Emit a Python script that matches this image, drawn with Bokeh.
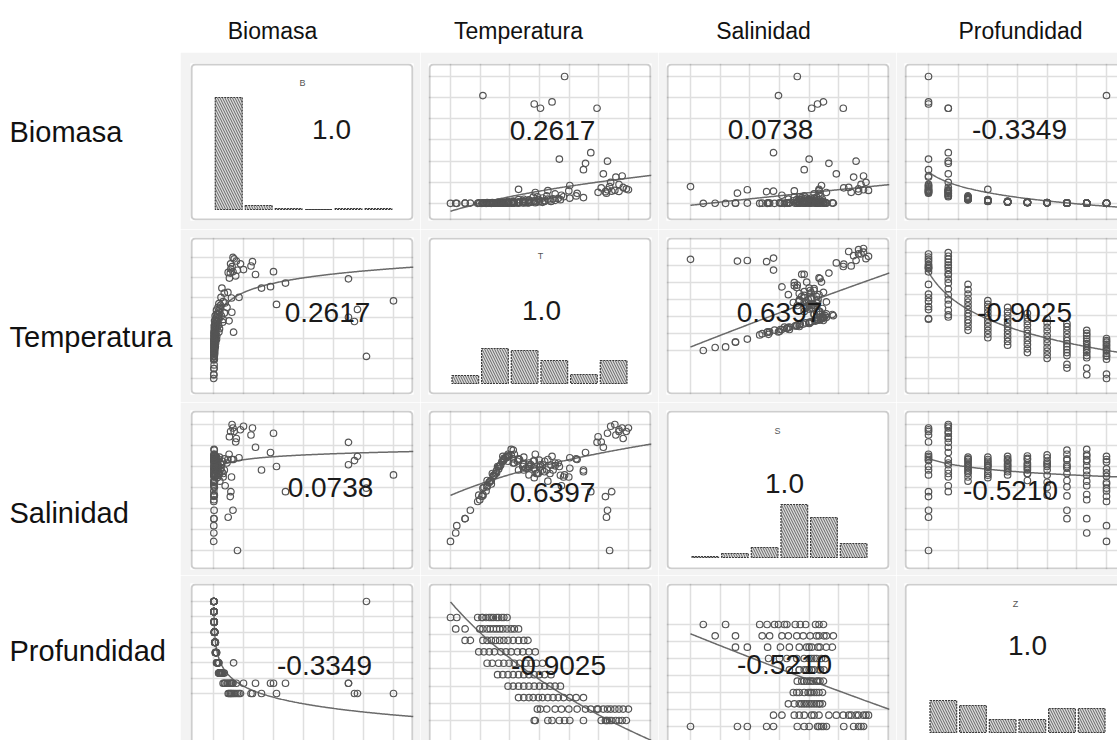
import numpy as np
from bokeh.plotting import figure
from bokeh.models import Range1d, Label, BoxAnnotation, Grid, FixedTicker
from bokeh.layouts import row, column
from bokeh.embed import file_html
from bokeh.resources import INLINE

# ---------------------------------------------------------------- data
VAR_NAMES = ["Biomasa", "Temperatura", "Salinidad", "Profundidad"]
VAR_CODES = ["B", "T", "S", "Z"]

# depth of each sample (m)
Z = [5, 5, 5, 5, 5, 5, 5, 5, 5, 5, 5, 5, 5, 5, 5, 5, 5, 5,
     10, 10, 10, 10, 10, 10, 10, 10, 10, 10, 10, 10, 10, 10, 10, 10, 10, 10,
     15, 15, 15, 15, 15, 15, 15, 15, 15, 15, 15, 15, 15,
     20, 20, 20, 20, 20, 20, 20, 20, 20, 20, 20,
     25, 25, 25, 25, 25, 25, 25, 25, 25, 25, 25,
     30, 30, 30, 30, 30, 30, 30, 30, 30, 30, 30,
     35, 35, 35, 35, 35, 35, 35, 35, 35, 35, 35,
     40, 40, 40, 40, 40, 40, 40, 40, 40, 40, 40, 40, 40,
     45, 45, 45, 45, 45, 45, 45, 45, 45, 45, 45, 45, 45, 45,
     50, 50, 50, 50, 50, 50, 50, 50, 50, 50, 50, 50, 50, 50]

# temperature (deg C)
T = [20.1, 20.0, 21.3, 21.7, 22.4, 22.9, 23.4, 24.7, 26.4, 26.8, 27.2, 26.9, 27.0, 27.4, 27.8, 28.1, 28.4, 28.8,
     20.3, 20.6, 21.2, 22.0, 22.6, 23.3, 24.1, 24.9, 25.4, 26.0, 26.1, 26.6, 27.0, 27.3, 27.7, 28.1, 28.5, 29.0,
     18.5, 19.0, 19.5, 19.9, 20.4, 20.8, 21.3, 21.8, 22.3, 22.8, 23.4, 24.0, 24.7,
     17.5, 18.0, 18.5, 19.0, 19.5, 20.0, 20.5, 21.0, 21.5, 22.0, 22.5,
     16.5, 17.0, 17.5, 18.0, 18.5, 19.0, 19.5, 20.0, 20.5, 21.0, 21.6,
     15.5, 16.0, 16.6, 17.1, 17.6, 18.1, 18.6, 19.2, 19.7, 20.2, 20.8,
     14.7, 15.2, 15.7, 16.2, 16.8, 17.3, 17.8, 18.4, 18.9, 19.5, 20.1,
     13.4, 13.9, 15.1, 15.5, 15.9, 16.3, 16.7, 17.1, 17.5, 18.0, 18.5, 19.0, 19.4,
     12.5, 13.4, 14.8, 15.1, 15.5, 15.8, 16.1, 16.4, 16.7, 17.0, 17.4, 17.8, 18.1, 18.5,
     12.0, 12.6, 14.6, 15.0, 15.1, 15.4, 15.7, 15.9, 16.1, 16.4, 16.6, 16.9, 17.1, 17.4]

# salinity (PSU)
S = [35.75, 35.57, 35.60, 35.69, 35.40, 35.16, 35.65, 35.30, 36.10, 34.54, 33.00, 33.95, 34.15, 34.68, 36.30, 36.45, 36.50, 36.40,
     35.20, 35.45, 35.30, 35.50, 34.85, 35.10, 35.60, 35.80, 34.68, 36.09, 36.25, 35.95, 36.35, 36.55, 36.60, 36.40, 36.20, 36.50,
     35.60, 35.67, 35.40, 35.55, 35.20, 35.45, 34.98, 35.30, 35.50, 35.10, 35.35, 35.62, 35.25,
     35.67, 35.50, 35.60, 35.30, 35.45, 35.08, 35.38, 35.55, 35.20, 35.42, 35.15,
     35.40, 35.69, 35.55, 35.62, 35.30, 35.48, 35.16, 35.35, 35.58, 35.25, 35.44,
     35.00, 35.20, 35.40, 35.63, 35.70, 35.50, 35.60, 35.35, 35.45, 35.20, 35.30,
     34.58, 34.80, 34.95, 35.15, 35.45, 35.65, 35.73, 35.55, 35.40, 35.50, 35.30,
     33.91, 34.15, 34.56, 34.82, 35.00, 35.20, 35.40, 35.58, 35.75, 35.87, 35.62, 35.45, 35.35,
     33.50, 33.91, 34.45, 34.60, 34.85, 34.98, 35.15, 35.28, 35.42, 35.55, 35.70, 35.89, 35.75, 35.60,
     33.26, 33.71, 34.40, 34.55, 34.78, 34.70, 34.95, 34.90, 35.12, 35.22, 35.33, 35.53, 35.60, 35.69]

# biomass
B = [5.2, 47.0, 6.1, 48.0, 21.0, 60.0, 8.5, 16.0, 7.4, 5.6, 8.0, 4.9, 6.5, 5.8, 12.5, 9.0, 13.0, 6.9,
     3.2, 45.0, 3.6, 4.5, 3.9, 6.0, 4.8, 19.0, 24.0, 45.0, 5.3, 14.0, 20.0, 10.0, 6.2, 5.7, 7.6, 6.5,
     1.8, 2.0, 1.7, 3.0, 1.9, 2.6, 2.1, 2.2, 2.4, 3.2, 2.5, 3.6, 2.8,
     1.0, 1.1, 6.7, 1.2, 1.5, 1.3, 1.6, 1.4, 1.7, 1.5, 1.8,
     0.6, 0.7, 0.65, 0.8, 0.75, 0.9, 0.8, 1.0, 0.85, 0.95, 1.0,
     0.4, 0.45, 0.5, 0.5, 0.45, 0.55, 0.6, 0.5, 0.6, 0.65, 0.55,
     0.28, 0.3, 0.3, 0.33, 0.35, 0.36, 0.4, 0.35, 0.38, 0.4, 0.36,
     0.18, 0.2, 0.2, 0.21, 0.22, 0.22, 0.24, 0.23, 0.25, 0.26, 0.24, 0.27, 0.25,
     0.12, 0.13, 0.13, 0.14, 0.14, 0.15, 0.15, 0.16, 0.15, 0.16, 0.17, 0.17, 0.16, 0.18,
     0.08, 0.09, 0.09, 0.1, 51.0, 0.1, 0.11, 0.1, 0.11, 0.12, 0.11, 0.12, 0.12, 0.13]

# histogram counts on the diagonal (6 bins each)
HIST_B = [112, 4, 1, 0, 1, 1]
HIST_T = [8, 35, 33, 23, 9, 23]
HIST_S = [1, 4, 10, 53, 40, 14]
HIST_Z = [32, 27, 13, 13, 24, 24]

# correlation labels
CORR = [["1.0", "0.2617", "0.0738", "-0.3349"],
        ["0.2617", "1.0", "0.6397", "-0.9025"],
        ["0.0738", "0.6397", "1.0", "-0.5210"],
        ["-0.3349", "-0.9025", "-0.5210", "1.0"]]

DATA = [np.array(B), np.array(T), np.array(S), np.array(Z)]
HISTS = [HIST_B, HIST_T, HIST_S, HIST_Z]

# ---------------------------------------------------------------- layout
PAGE_W, PAGE_H = 1117, 740
LEFT_W, HEAD_H = 180, 52

COL_FRAMES = [(190, 413), (428, 651), (666, 889), (904, 1117)]
ROW_FRAMES = [(63, 220), (237, 394), (410, 569), (583, 740)]
CELL_W = [240, 238, 238, 221]
CELL_H = [177, 173, 173, 165]
BORDER_L = [10, 8, 8, 8]
BORDER_R = [7, 7, 7, 0]
BORDER_T = [11, 8, 8, 8]
BORDER_B = [9, 8, 6, 0]

X_RANGES = [(-7.67, 66.67), (9.90, 31.20), (32.515, 37.025), (-1.07, 52.78)]
Y_RANGES = {
    (0, 1): (-8.03, 66.13), (0, 2): (-8.03, 66.13), (0, 3): (-8.03, 66.13),
    (1, 0): (9.75, 31.80), (1, 2): (4.67, 30.83), (1, 3): (9.84, 31.03),
    (2, 0): (32.457, 37.0), (2, 1): (32.457, 37.0), (2, 3): (32.457, 37.0),
    (3, 0): (-18.0, 58.8), (3, 1): (-3.74, 64.85), (3, 2): (-1.18, 68.08),
    (0, 0): (-11, 146), (1, 1): (-11, 146), (2, 2): (-12, 147), (3, 3): (-8, 149),
}

CORR_POS = [[(331, 129), (552, 130), (770, 129), (1019, 129)],
            [(327, 312), (541, 310), (779, 312), (1024, 312)],
            [(330, 487), (552, 492), (784, 483), (1010, 490)],
            [(324, 665), (558, 665), (784, 664), (1027, 645)]]
CODE_POS = [(302, 82), (540, 255), (777, 430), (1015, 603)]

HEAD_POS = [(272, 30), (518, 30), (763, 30), (1020, 30)]
ROW_LABEL_POS = [(9, 131), (9, 336), (9, 512), (9, 650)]

FONT = "Liberation Sans"
BG = "#f3f3f3"
FRAME = "#5c5c5c"
GRID = "#dfdfdf"
PT = "#555555"
FIT = "#6a6a6a"
INK = "#1a1a1a"


def to_data(i, j, px, py):
    (l, r), (t, b) = COL_FRAMES[j], ROW_FRAMES[i]
    xs, xe = X_RANGES[j]
    ys, ye = Y_RANGES[(i, j)]
    return (xs + (px - l) / (r - l) * (xe - xs),
            ys + (b - py) / (b - t) * (ye - ys))


def make_panel(i, j):
    p = figure(width=CELL_W[j], height=CELL_H[i],
               x_range=Range1d(*X_RANGES[j]), y_range=Range1d(*Y_RANGES[(i, j)]),
               x_axis_location=None, y_axis_location=None,
               toolbar_location=None, output_backend="svg",
               min_border_left=BORDER_L[j], min_border_right=BORDER_R[j],
               min_border_top=BORDER_T[i], min_border_bottom=BORDER_B[i],
               background_fill_color="white", border_fill_color=BG,
               outline_line_color=None)
    p.center = [c for c in p.center if not isinstance(c, Grid)]

    if i != j:
        x, y = DATA[j], DATA[i]
        p.add_layout(Grid(dimension=0, ticker=FixedTicker(ticks=list(np.linspace(x.min(), x.max(), 7))),
                          grid_line_color=GRID, grid_line_width=1.5))
        p.add_layout(Grid(dimension=1, ticker=FixedTicker(ticks=list(np.linspace(y.min(), y.max(), 7))),
                          grid_line_color=GRID, grid_line_width=1.5))
        # logarithmic least-squares trend y = a + b*log(x)
        slope, icpt = np.polyfit(np.log(x), y, 1)
        xs = np.linspace(x.min(), X_RANGES[j][1], 200)
        p.line(xs, icpt + slope * np.log(xs), line_color=FIT, line_width=1.5)
        p.scatter(x, y, marker="circle", size=6.5, fill_color=None,
                  line_color=PT, line_width=1.2)
    else:
        v = DATA[i]
        edges = np.linspace(v.min(), v.max(), 7)
        gap = (edges[1] - edges[0]) * 0.05
        p.quad(left=edges[:-1] + gap, right=edges[1:] - gap,
               bottom=0, top=HISTS[i],
               fill_color="#dcdcdc", hatch_pattern="\\", hatch_color="#666666",
               hatch_scale=5, hatch_weight=1,
               line_color="#3a3a3a", line_width=1.2, line_dash="2 1")
        cx, cy = to_data(i, j, *CODE_POS[i])
        p.add_layout(Label(x=cx, y=cy, text=VAR_CODES[i], text_align="center",
                           text_baseline="middle", text_font=FONT,
                           text_font_size="9px", text_color="#555555"))

    tx, ty = to_data(i, j, *CORR_POS[i][j])
    p.add_layout(Label(x=tx, y=ty, text=CORR[i][j], text_align="center",
                       text_baseline="middle", text_font=FONT,
                       text_font_size="28px", text_color=INK))

    # rounded panel frame; sides cut by the page edge run past it
    (l, r), (t, b) = COL_FRAMES[j], ROW_FRAMES[i]
    x0, y1 = to_data(i, j, l + 1, t + 1)
    x1, y0 = to_data(i, j, r - 1 if j < 3 else r + 20, b - 1 if i < 3 else b + 20)
    p.add_layout(BoxAnnotation(left=x0, right=x1, bottom=y0, top=y1,
                               fill_alpha=0, line_color=FRAME, line_width=2.2,
                               border_radius=4, level="overlay"))
    return p


panel_rows = [row(*[make_panel(i, j) for j in range(4)]) for i in range(4)]
grid_block = column(*panel_rows)

# column headers
head = figure(width=PAGE_W, height=HEAD_H, x_range=Range1d(0, PAGE_W), y_range=Range1d(HEAD_H, 0),
              x_axis_location=None, y_axis_location=None, toolbar_location=None,
              output_backend="svg", min_border=0, outline_line_color=None,
              background_fill_color="white", border_fill_color="white")
head.grid.visible = False
for name, (hx, hy) in zip(VAR_NAMES, HEAD_POS):
    head.add_layout(Label(x=hx, y=hy, text=name, text_align="center", text_baseline="middle",
                          text_font=FONT, text_font_size="23px", text_color="#111111"))

# row labels
side = figure(width=LEFT_W, height=PAGE_H - HEAD_H, x_range=Range1d(0, LEFT_W),
              y_range=Range1d(PAGE_H, HEAD_H),
              x_axis_location=None, y_axis_location=None, toolbar_location=None,
              output_backend="svg", min_border=0, outline_line_color=None,
              background_fill_color="white", border_fill_color="white")
side.grid.visible = False
for name, (lx, ly) in zip(VAR_NAMES, ROW_LABEL_POS):
    side.add_layout(Label(x=lx, y=ly, text=name, text_align="left", text_baseline="middle",
                          text_font=FONT, text_font_size="29px", text_color="#111111"))

page = column(head, row(side, grid_block))

open("out.html", "w").write(file_html(page, INLINE))
